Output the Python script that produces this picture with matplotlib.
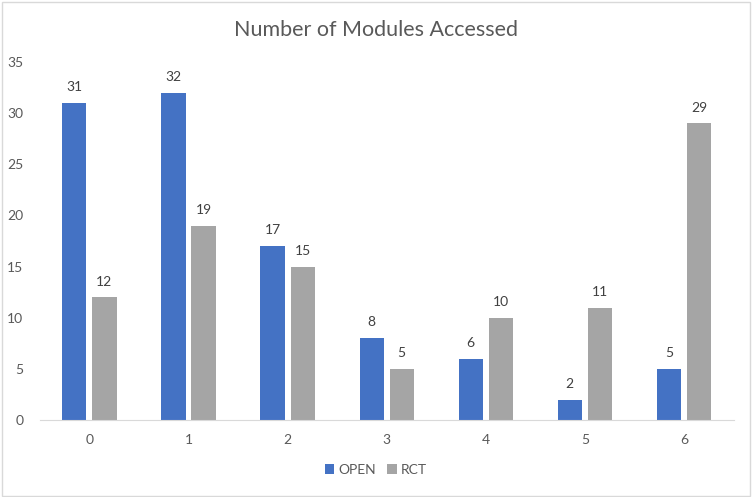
import matplotlib
matplotlib.use("Agg")
import matplotlib.pyplot as plt
import numpy as np
from matplotlib.patches import Rectangle

categories = ["0", "1", "2", "3", "4", "5", "6"]
open_vals = [31, 32, 17, 8, 6, 2, 5]
rct_vals = [12, 19, 15, 5, 10, 11, 29]
yticks = [0, 5, 10, 15, 20, 25, 30, 35]

plt.rcParams['font.family'] = ['Lato', 'DejaVu Sans']

fig = plt.figure(figsize=(7.52, 4.97), dpi=100)
ax = fig.add_axes([0.053, 0.155, 0.9225, 0.72])

x = np.arange(len(categories))
w = 0.245
off = 0.152
b1 = ax.bar(x - off, open_vals, w, color="#4472C4", label="OPEN")
b2 = ax.bar(x + off, rct_vals, w, color="#A5A5A5", label="RCT")

for bars, vals in ((b1, open_vals), (b2, rct_vals)):
    for b, v in zip(bars, vals):
        ax.annotate(str(v), (b.get_x() + b.get_width() / 2, v), xytext=(0, 7),
                    textcoords="offset points", ha="center", va="bottom",
                    fontsize=10, color="#404040")

ax.set_xlim(-0.5, len(categories) - 0.5)
ax.set_ylim(0, 35)
ax.set_xticks(x)
ax.set_xticklabels(categories)
ax.set_yticks(yticks)
ax.tick_params(axis="both", length=0, labelsize=10, labelcolor="#595959")
ax.tick_params(axis="x", pad=10)
ax.tick_params(axis="y", pad=12)
for s in ("top", "right", "left"):
    ax.spines[s].set_visible(False)
ax.spines["bottom"].set_color("#D9D9D9")

fig.text(0.5, 0.94, "Number of Modules Accessed", ha="center", va="center",
         fontsize=15.5, color="#595959")

leg = fig.legend(loc="center", bbox_to_anchor=(0.5, 0.055), ncol=2, frameon=False,
                 fontsize=10, handlelength=0.7, handleheight=0.7, handletextpad=0.3,
                 columnspacing=0.8)
for t in leg.get_texts():
    t.set_color("#595959")

fig.patches.append(Rectangle((0.002, 0.003), 0.995, 0.993, transform=fig.transFigure,
                             fill=False, edgecolor="#D9D9D9", linewidth=1))

fig.savefig("out.png", dpi=100)
